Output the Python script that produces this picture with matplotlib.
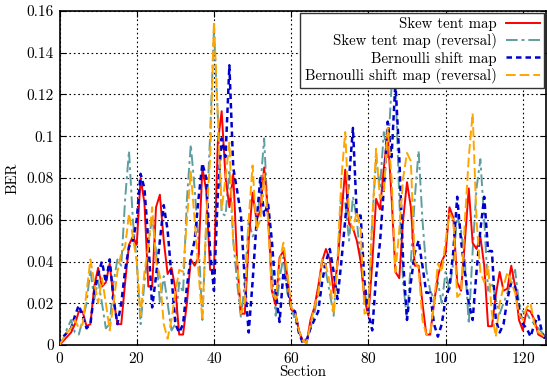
import matplotlib
matplotlib.use("Agg")
import matplotlib.pyplot as plt
from matplotlib.ticker import FuncFormatter, MultipleLocator

sections = list(range(0, 127))

skew_tent = [
    0.000, 0.002, 0.004, 0.006, 0.010, 0.016, 0.016, 0.009, 0.010, 0.028,
    0.037, 0.028, 0.030, 0.039, 0.022, 0.010, 0.010, 0.030, 0.048, 0.052,
    0.048, 0.080, 0.068, 0.028, 0.028, 0.066, 0.072, 0.050, 0.034, 0.037,
    0.027, 0.005, 0.005, 0.020, 0.041, 0.038, 0.042, 0.085, 0.074, 0.036,
    0.036, 0.097, 0.112, 0.080, 0.066, 0.082, 0.040, 0.015, 0.015, 0.050,
    0.073, 0.060, 0.064, 0.085, 0.064, 0.026, 0.019, 0.042, 0.045, 0.033,
    0.017, 0.016, 0.007, 0.002, 0.001, 0.012, 0.018, 0.028, 0.040, 0.046,
    0.041, 0.025, 0.039, 0.062, 0.084, 0.058, 0.056, 0.050, 0.040, 0.022,
    0.014, 0.039, 0.070, 0.065, 0.085, 0.101, 0.071, 0.035, 0.032, 0.060,
    0.078, 0.066, 0.038, 0.038, 0.020, 0.005, 0.005, 0.020, 0.033, 0.040,
    0.044, 0.066, 0.061, 0.030, 0.026, 0.050, 0.075, 0.049, 0.046, 0.052,
    0.038, 0.009, 0.009, 0.024, 0.035, 0.026, 0.027, 0.038, 0.028, 0.012,
    0.007, 0.017, 0.016, 0.012, 0.005, 0.004, 0.003,
]

skew_tent_rev = [
    0.000, 0.003, 0.008, 0.012, 0.006, 0.005, 0.012, 0.020, 0.036, 0.022,
    0.031, 0.020, 0.008, 0.010, 0.030, 0.041, 0.038, 0.070, 0.093, 0.060,
    0.040, 0.010, 0.030, 0.047, 0.062, 0.045, 0.020, 0.033, 0.020, 0.007,
    0.010, 0.030, 0.025, 0.070, 0.096, 0.075, 0.050, 0.012, 0.058, 0.100,
    0.151, 0.110, 0.063, 0.062, 0.084, 0.050, 0.030, 0.013, 0.030, 0.060,
    0.052, 0.055, 0.075, 0.099, 0.060, 0.035, 0.014, 0.032, 0.042, 0.025,
    0.018, 0.012, 0.006, 0.002, 0.003, 0.008, 0.015, 0.025, 0.041, 0.035,
    0.025, 0.014, 0.040, 0.073, 0.068, 0.050, 0.071, 0.060, 0.040, 0.025,
    0.018, 0.060, 0.089, 0.075, 0.102, 0.090, 0.124, 0.126, 0.070, 0.030,
    0.012, 0.040, 0.070, 0.093, 0.060, 0.036, 0.026, 0.022, 0.030, 0.020,
    0.035, 0.026, 0.040, 0.062, 0.055, 0.040, 0.010, 0.045, 0.075, 0.089,
    0.060, 0.026, 0.030, 0.022, 0.015, 0.020, 0.025, 0.030, 0.036, 0.020,
    0.016, 0.015, 0.012, 0.010, 0.008, 0.006, 0.003,
]

bernoulli = [
    0.000, 0.004, 0.006, 0.008, 0.014, 0.019, 0.014, 0.008, 0.010, 0.025,
    0.034, 0.040, 0.030, 0.041, 0.022, 0.010, 0.020, 0.036, 0.047, 0.050,
    0.060, 0.082, 0.075, 0.050, 0.018, 0.033, 0.050, 0.067, 0.055, 0.033,
    0.010, 0.006, 0.010, 0.028, 0.042, 0.050, 0.070, 0.087, 0.080, 0.045,
    0.026, 0.072, 0.099, 0.090, 0.134, 0.085, 0.074, 0.062, 0.030, 0.006,
    0.030, 0.058, 0.080, 0.062, 0.068, 0.050, 0.025, 0.011, 0.035, 0.028,
    0.018, 0.016, 0.006, 0.001, 0.002, 0.008, 0.012, 0.016, 0.030, 0.040,
    0.046, 0.035, 0.022, 0.040, 0.060, 0.080, 0.104, 0.062, 0.062, 0.030,
    0.015, 0.007, 0.033, 0.049, 0.075, 0.107, 0.090, 0.126, 0.090, 0.040,
    0.012, 0.030, 0.044, 0.050, 0.038, 0.025, 0.025, 0.010, 0.004, 0.010,
    0.022, 0.028, 0.045, 0.071, 0.050, 0.035, 0.020, 0.012, 0.035, 0.055,
    0.071, 0.045, 0.045, 0.012, 0.006, 0.010, 0.022, 0.030, 0.028, 0.018,
    0.010, 0.008, 0.004, 0.010, 0.014, 0.006, 0.002,
]

bernoulli_rev = [
    0.000, 0.003, 0.006, 0.008, 0.012, 0.008, 0.010, 0.025, 0.041, 0.030,
    0.020, 0.032, 0.020, 0.007, 0.020, 0.035, 0.044, 0.047, 0.063, 0.052,
    0.040, 0.014, 0.035, 0.047, 0.066, 0.040, 0.033, 0.010, 0.003, 0.012,
    0.025, 0.036, 0.035, 0.060, 0.083, 0.060, 0.035, 0.012, 0.060, 0.089,
    0.155, 0.110, 0.065, 0.080, 0.097, 0.049, 0.040, 0.015, 0.020, 0.060,
    0.086, 0.055, 0.060, 0.082, 0.060, 0.025, 0.022, 0.040, 0.049, 0.035,
    0.018, 0.016, 0.007, 0.002, 0.001, 0.010, 0.018, 0.025, 0.041, 0.038,
    0.030, 0.015, 0.040, 0.080, 0.102, 0.062, 0.055, 0.064, 0.055, 0.015,
    0.016, 0.060, 0.094, 0.070, 0.073, 0.104, 0.080, 0.035, 0.055, 0.080,
    0.092, 0.088, 0.040, 0.037, 0.012, 0.005, 0.005, 0.020, 0.039, 0.035,
    0.050, 0.063, 0.060, 0.023, 0.025, 0.060, 0.090, 0.111, 0.060, 0.035,
    0.030, 0.038, 0.015, 0.004, 0.020, 0.028, 0.035, 0.030, 0.025, 0.015,
    0.012, 0.018, 0.020, 0.010, 0.006, 0.005, 0.003,
]

labels = [
    "Skew tent map",
    "Skew tent map (reversal)",
    "Bernoulli shift map",
    "Bernoulli shift map (reversal)",
]
xticks = [0, 20, 40, 60, 80, 100, 120]

plt.rcParams["font.family"] = ["cmr10", "DejaVu Serif"]
plt.rcParams["axes.formatter.use_mathtext"] = True
plt.rcParams["font.size"] = 10.7

fig = plt.figure(figsize=(5.47, 3.82), dpi=100)
ax = fig.add_axes([59.5 / 547, 37 / 382, (546 - 59.5) / 547, (345 - 11) / 382])

ax.plot(sections, skew_tent, color="#ff0000", lw=1.4, ls="-", label=labels[0], zorder=3)
ax.plot(sections, skew_tent_rev, color="#5f9ea0", lw=1.4, ls=(0, (6, 2, 1.5, 2)), label=labels[1], zorder=2)
ax.plot(sections, bernoulli, color="#0000cd", lw=1.8, ls=(0, (2.2, 1.6)), label=labels[2], zorder=4)
ax.plot(sections, bernoulli_rev, color="#ffa500", lw=1.4, ls=(0, (5, 2)), label=labels[3], zorder=5)

ax.set_xlim(0, 126)
ax.set_ylim(0, 0.16)
ax.set_xticks(xticks)
ax.yaxis.set_major_locator(MultipleLocator(0.02))
ax.yaxis.set_major_formatter(FuncFormatter(lambda v, p: "0" if abs(v) < 1e-12 else ("%g" % round(v, 4))))
ax.grid(True, color="black", ls=(0, (1.5, 2.5)), lw=0.8)
ax.tick_params(direction="in", length=4, width=0.8, top=True, right=True, labelsize=11, pad=4)
for s in ax.spines.values():
    s.set_linewidth(1.2)
    s.set_color("black")

ax.set_xlabel("Section", fontsize=10.7, labelpad=0)
ax.set_ylabel("BER", fontsize=10.7, labelpad=5)

leg = ax.legend(loc="upper right", fontsize=10.7, markerfirst=False, fancybox=False,
                edgecolor="#333333", framealpha=1, borderaxespad=0.12,
                labelspacing=0.15, handlelength=2.3, borderpad=0.3, handletextpad=0.6)
leg.get_frame().set_linewidth(1.0)

fig.savefig("out.png", dpi=100)
